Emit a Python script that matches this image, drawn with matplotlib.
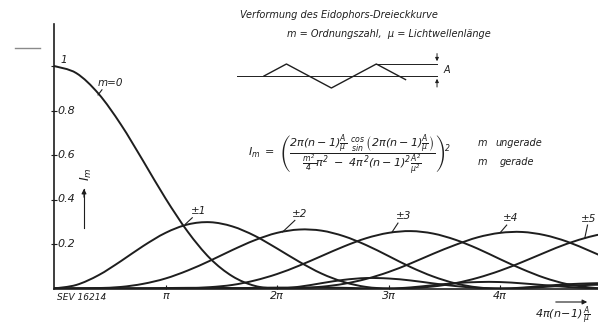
import numpy as np
import matplotlib.pyplot as plt
from matplotlib.path import Path
from matplotlib.patches import PathPatch

# abscissa in units of pi: 4pi(n-1)A/mu
k = [0.0, 0.2, 0.4, 0.6, 0.8, 1.0, 1.2, 1.4, 1.6, 1.8, 2.0, 2.2, 2.4,
     2.6, 2.8, 3.0, 3.2, 3.4, 3.6, 3.8, 4.0, 4.2, 4.4, 4.6, 4.8, 4.9]

I0 = [1.0, 0.968, 0.875, 0.737, 0.573, 0.405, 0.255, 0.135, 0.055, 0.012, 0.0, 0.008, 0.024,
      0.039, 0.047, 0.045, 0.036, 0.023, 0.011, 0.003, 0.0, 0.002, 0.007, 0.013, 0.016, 0.017]
I1 = [0.0, 0.016, 0.060, 0.123, 0.191, 0.250, 0.288, 0.298, 0.279, 0.237, 0.180, 0.120, 0.067,
      0.029, 0.007, 0.0, 0.005, 0.015, 0.024, 0.029, 0.029, 0.023, 0.015, 0.007, 0.002, 0.0]
I2 = [0.0, 0.0, 0.002, 0.007, 0.021, 0.045, 0.081, 0.125, 0.173, 0.217, 0.250, 0.265, 0.260,
      0.235, 0.195, 0.146, 0.096, 0.054, 0.023, 0.005, 0.0, 0.004, 0.012, 0.019, 0.023, 0.024]
I3 = [0.0, 0.0, 0.001, 0.001, 0.0, 0.0, 0.001, 0.006, 0.016, 0.036, 0.065, 0.103, 0.146,
      0.189, 0.226, 0.250, 0.258, 0.247, 0.219, 0.179, 0.132, 0.087, 0.048, 0.020, 0.005, 0.001]
I4 = [0.0, 0.0, 0.0, 0.0, 0.001, 0.002, 0.003, 0.003, 0.002, 0.001, 0.0, 0.002, 0.008,
      0.021, 0.043, 0.074, 0.113, 0.156, 0.196, 0.230, 0.250, 0.254, 0.240, 0.211, 0.170, 0.148]
I5 = [0.0, 0.0, 0.0, 0.0, 0.0, 0.0, 0.0, 0.001, 0.001, 0.003, 0.004, 0.004, 0.004,
      0.003, 0.001, 0.0, 0.002, 0.009, 0.024, 0.048, 0.080, 0.119, 0.161, 0.201, 0.232, 0.243]

curves = [I0, I1, I2, I3, I4, I5]
curve_labels = ['m=0', '±1', '±2', '±3', '±4', '±5']
# (curve point, text point) for the little leader lines
leaders = [((0.395, 0.870), (0.43, 0.893)),
           ((1.18, 0.290), (1.24, 0.318)),
           ((2.05, 0.254), (2.16, 0.306)),
           ((3.03, 0.252), (3.085, 0.294)),
           ((4.00, 0.250), (4.06, 0.285)),
           ((4.76, 0.226), (4.785, 0.285))]
label_pos = [(0.39, 0.90), (1.23, 0.325), (2.13, 0.313), (3.07, 0.302), (4.03, 0.293), (4.73, 0.292)]

xticks = [1, 2, 3, 4]
xtick_labels = ['π', '2π', '3π', '4π']
yticks = [0.2, 0.4, 0.6, 0.8]

# little triangle sketch (quarter periods, amplitude A = 1)
wave_x = [0, 1, 3, 5, 6.3]
wave_y = [0, 1, -1, 1, -0.3]

ink = '#1e1e1e'
plt.rcParams['font.family'] = ['DejaVu Sans']
plt.rcParams['font.style'] = 'italic'
plt.rcParams['mathtext.fontset'] = 'dejavusans'


def smooth_line(ax, xs, ys, **kw):
    # draw the read points as one bezier path (catmull-rom handles)
    p = np.column_stack([xs, ys])
    verts = [p[0]]
    codes = [Path.MOVETO]
    n = len(p)
    for i in range(n - 1):
        a = p[max(i - 1, 0)]
        b = p[min(i + 2, n - 1)]
        c1 = p[i] + (p[i + 1] - a) / 6.0
        c2 = p[i + 1] - (b - p[i]) / 6.0
        verts += [c1, c2, p[i + 1]]
        codes += [Path.CURVE4] * 3
    ax.add_patch(PathPatch(Path(verts, codes), fill=False, **kw))


fig = plt.figure(figsize=(5.98, 3.27), dpi=100)
W, H = 598.0, 327.0
ax = fig.add_axes([54 / W, 1 - 288.5 / H, 544 / W, 264.5 / H])
ax.set_xlim(0, 544 / 111.5)
ax.set_ylim(0, 264.5 / 222.5)

for c in curves:
    smooth_line(ax, k, c, edgecolor=ink, lw=1.4, capstyle='round', joinstyle='round')

for lab, (p, t), pos in zip(curve_labels, leaders, label_pos):
    ax.plot([p[0], t[0]], [p[1], t[1]], color=ink, lw=0.8)
    ax.text(pos[0], pos[1], lab, fontsize=7.5, ha='left', va='bottom', color=ink)

ax.text(0.06, 1.005, '1', fontsize=7.5, color=ink, va='bottom')
for y in yticks:
    ax.text(0.035, y, '%.1f' % y, fontsize=8, color=ink, va='center', ha='left')

ax.spines['top'].set_visible(False)
ax.spines['right'].set_visible(False)
ax.spines['left'].set_linewidth(1.2)
ax.spines['bottom'].set_linewidth(1.2)
ax.spines['left'].set_color(ink)
ax.spines['bottom'].set_color(ink)
ax.set_yticks(yticks + [1.0])
ax.set_yticklabels([])
ax.tick_params(axis='y', direction='inout', length=4, width=0.8, colors=ink)
ax.set_xticks(xticks)
ax.set_xticklabels(xtick_labels, fontsize=8, style='italic')
ax.tick_params(axis='x', direction='in', length=3, width=0.8, pad=2, colors=ink)

# texts around the chart
fig.text(57 / W, 1 - 297 / H, 'SEV 16214', fontsize=6.5, color=ink, va='center')
fig.text(86 / W, 1 - 174 / H, r'$I_m$', fontsize=9, rotation=90, ha='center', va='center', color=ink)
fig.add_artist(plt.Line2D([84 / W, 84 / W], [1 - 228 / H, 1 - 189 / H], color=ink, lw=0.8))
ax.annotate('', xy=(84 / W, 1 - 186 / H), xytext=(84 / W, 1 - 200 / H), xycoords='figure fraction',
            arrowprops=dict(arrowstyle='-|>', color=ink, lw=0.8, mutation_scale=7))
ax.annotate('', xy=(590 / W, 1 - 302 / H), xytext=(553 / W, 1 - 302 / H), xycoords='figure fraction',
            arrowprops=dict(arrowstyle='-|>', color=ink, lw=0.8, mutation_scale=7))
fig.text(563 / W, 1 - 316 / H, r'$4\pi(n\!-\!1)\,\frac{A}{\mu}$', fontsize=8, ha='center', va='center', color=ink)
fig.add_artist(plt.Line2D([15 / W, 40 / W], [1 - 48 / H, 1 - 48 / H], color='#8a8a8a', lw=1.0))

fig.text(240 / W, 1 - 15 / H, 'Verformung des Eidophors-Dreieckkurve', fontsize=7, color=ink, va='center')
fig.text(287 / W, 1 - 34 / H, 'm = Ordnungszahl,  μ = Lichtwellenlänge', fontsize=7, color=ink, va='center')

formula = (r'$I_m\ =\ \left(\dfrac{2\pi(n-1)\frac{A}{\mu}\ \genfrac{}{}{0}{}{\cos}{\sin}'
           r'\left(2\pi(n-1)\frac{A}{\mu}\right)}{\frac{m^2}{4}\pi^2\ -\ 4\pi^2(n-1)^2\frac{A^2}{\mu^2}}\right)^2$')
fig.text(248 / W, 1 - 155 / H, formula, fontsize=8, color=ink, va='center', ha='left')
fig.text(478 / W, 1 - 143 / H, 'm', fontsize=7, color=ink, va='center')
fig.text(495 / W, 1 - 143 / H, 'ungerade', fontsize=7, color=ink, va='center')
fig.text(478 / W, 1 - 162 / H, 'm', fontsize=7, color=ink, va='center')
fig.text(500 / W, 1 - 162 / H, 'gerade', fontsize=7, color=ink, va='center')

# triangle wave sketch
wx = fig.add_axes([237 / W, 1 - 90.4 / H, 218 / W, 40.8 / H])
wx.set_xlim(-1.2, 8.5)
wx.set_ylim(-1.2, 2.2)
wx.axis('off')
wx.plot(wave_x, wave_y, color=ink, lw=1.0)
wx.plot([-1.2, 7.7], [0, 0], color=ink, lw=0.7)
wx.plot([5, 7.7], [1, 1], color=ink, lw=0.7)
wx.annotate('', xy=(7.7, 1), xytext=(7.7, 2.1), arrowprops=dict(arrowstyle='-|>', color=ink, lw=0.7, mutation_scale=5))
wx.annotate('', xy=(7.7, 0), xytext=(7.7, -1.15), arrowprops=dict(arrowstyle='-|>', color=ink, lw=0.7, mutation_scale=5))
wx.text(8.0, 0.5, 'A', fontsize=7, color=ink, va='center')

fig.savefig('out.png', dpi=100)
